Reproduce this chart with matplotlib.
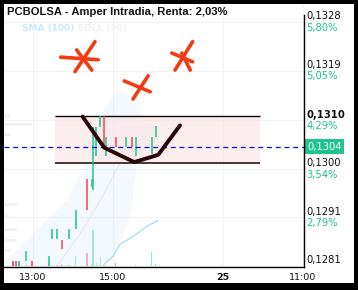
import matplotlib
matplotlib.use('Agg')
import matplotlib.pyplot as plt
from matplotlib.patches import Rectangle
import numpy as np

# candles (time of day 24, open, close)
times = ['12:30', '12:35', '12:39', '12:50', '12:58', '13:24', '13:28', '13:36',
         '13:43', '13:54', '14:04', '14:21', '14:28', '14:30', '14:35', '14:41',
         '14:46', '14:49', '15:04', '15:20', '15:29', '15:34', '15:58', '16:04']
opens = [0.12818, 0.12818, 0.12808, 0.12817, 0.12817, 0.12808, 0.12860, 0.12860,
         0.12858, 0.12860, 0.12879, 0.12977, 0.12960, 0.12956, 0.13020, 0.13077,
         0.13099, 0.13020, 0.13058, 0.13039, 0.13058, 0.13020, 0.13024, 0.13058]
closes = [0.12808, 0.12808, 0.12818, 0.12837, 0.12808, 0.12827, 0.12879, 0.12879,
          0.12840, 0.12879, 0.12917, 0.12917, 0.12977, 0.13077, 0.13077, 0.13099,
          0.13039, 0.13058, 0.13039, 0.13058, 0.13039, 0.13058, 0.13058, 0.13078]
volumes = [5, 5, 5, 3, 3, 4, 2, 2, 3, 2, 10, 14, 3, 37, 4, 10, 2, 2, 4, 1, 1, 2, 15, 3]

# bollinger band (hours, upper, lower) and SMA(100)
band_x = [12.3, 13.0, 13.85, 14.25, 14.6, 14.75, 15.0, 15.1, 15.25, 15.45, 15.5, 15.6, 15.8, 16.075]
band_up = [0.12817, 0.12873, 0.12937, 0.13000, 0.13066, 0.13110, 0.13140, 0.13149, 0.13145,
           0.13135, 0.13128, 0.13110, 0.13087, 0.13079]
band_lo = [0.1279, 0.1279, 0.1279, 0.1279, 0.1279, 0.12808, 0.12827, 0.12845, 0.12873,
           0.12917, 0.12955, 0.13014, 0.13033, 0.13052]
band_mid_x = [13.6, 14.2, 14.7, 15.1, 15.4, 16.075]
band_mid = [0.12808, 0.12873, 0.12937, 0.12997, 0.13030, 0.13044]
sma_x = [14.775, 15.0, 15.175, 15.5, 15.85, 16.125]
sma_y = [0.12811, 0.12827, 0.12850, 0.12865, 0.12885, 0.12896]

# faint volume profile on the left (price, width in hours)
prof_y = [0.13097, 0.13081, 0.13062, 0.12927, 0.12904, 0.12879, 0.12858, 0.12838]
prof_w = [0.18, 0.7, 0.18, 0.33, 0.12, 0.33, 0.33, 0.18]

# axis ticks
tick_levels = [0.13280, 0.13186, 0.13090, 0.12996, 0.12902, 0.12808]
tick_prices = ['0,1328', '0,1319', '0,1310', '0,1300', '0,1291', '0,1281']
tick_pcts = ['5,80%', '5,05%', '4,29%', '3,54%', '2,79%', '2,04%']
xtick_pos = [13, 15, 17.75, 19.75]
xtick_labels = ['13:00', '15:00', '25', '11:00']
last_price = 0.13039

# drawn range box and hand annotations
box_x = [13.54, 18.675]
box_y = [0.13008, 0.13098]
v_x = [14.24, 14.78, 15.53, 16.13, 16.675]
v_y = [0.13097, 0.13037, 0.13009, 0.13023, 0.13080]
star_strokes = [
    [(13.69, 0.13212), (14.63, 0.13207)],
    [(14.55, 0.13242), (14.05, 0.13184)],
    [(14.09, 0.13226), (14.47, 0.13187)],
    [(15.28, 0.13166), (15.93, 0.13145)],
    [(15.88, 0.13176), (15.50, 0.13131)],
    [(16.47, 0.13220), (16.99, 0.13203)],
    [(16.99, 0.13242), (16.55, 0.13187)],
    [(16.72, 0.13220), (16.93, 0.13187)],
]

GREEN = '#1ec48f'
RED = '#f0464e'


def to_h(t):
    hh, mm = t.split(':')
    return int(hh) + int(mm) / 60


x = np.array([to_h(t) for t in times])
o = np.array(opens)
c = np.array(closes)
up = c >= o

fig = plt.figure(figsize=(3.58, 2.90), dpi=100)
fig.patch.set_facecolor('black')
fig.add_artist(Rectangle((4 / 358, 7 / 290), 350 / 358, 279 / 290, transform=fig.transFigure,
                         facecolor='white', edgecolor='none', zorder=-1))

ax = fig.add_axes([4 / 358, 23 / 290, 300 / 358, 263 / 290])
ylo, yhi = 0.128061, 0.133148
ax.set_xlim(12.275, 19.775)
ax.set_ylim(ylo, yhi)

# volume (drawn underneath)
vax = ax.twinx()
vax.set_ylim(0, max(volumes) * 263 / 37)
vax.bar(x, volumes, width=0.035, color=np.where(up, '#86eecb', '#f7a0a7'), lw=0, zorder=1)
vax.set_axis_off()
ax.set_zorder(vax.get_zorder() + 1)
ax.patch.set_visible(False)

for lv in tick_levels:
    ax.axhline(lv, color='#f3f3f3', lw=0.8, zorder=0)
for xp in xtick_pos:
    ax.axvline(xp, color='#f3f3f3', lw=0.8, zorder=0)

ax.barh(prof_y, prof_w, left=12.275, height=0.00006, color='#f2f2f2', zorder=0.5)

# band
ax.fill_between(band_x, band_lo, band_up, color='#d8ebfb', alpha=0.28, lw=0, zorder=1)
ax.plot(band_mid_x, band_mid, color='#e6e4f0', lw=0.8, alpha=0.8, zorder=1.1)
ax.plot(sma_x, sma_y, color='#a6dcf7', lw=0.9, zorder=1.2)

# range box
ax.add_patch(Rectangle((box_x[0], box_y[0]), box_x[1] - box_x[0], box_y[1] - box_y[0],
                       facecolor='#fbe3e3', alpha=0.6, edgecolor='none', zorder=1.5))
ax.hlines(box_y[1], box_x[0], box_x[1], color='black', lw=1.0, zorder=3)
ax.hlines(box_y[0], box_x[0], box_x[1], color='#3a2525', lw=1.3, zorder=3)

# candles
ax.vlines(x, np.minimum(o, c), np.maximum(o, c), colors=np.where(up, GREEN, RED), lw=1.1, zorder=4)

ax.axhline(last_price, color='#1010c8', lw=0.9, dashes=(4, 3), zorder=5)

# hand drawn marks
ax.plot(v_x, v_y, color='#2a0808', lw=2.8, solid_capstyle='round', solid_joinstyle='round', zorder=6)
for s in star_strokes:
    ax.plot([s[0][0], s[1][0]], [s[0][1], s[1][1]], color='#f43a14', lw=2.6,
            solid_capstyle='round', zorder=6)

for sp in ['top', 'left']:
    ax.spines[sp].set_visible(False)
ax.spines['right'].set_bounds(ylo, 0.13294)
ax.spines['right'].set_linewidth(1.0)
ax.spines['bottom'].set_linewidth(1.0)
ax.set_yticks([])
ax.set_xticks(xtick_pos)
ax.set_xticklabels(xtick_labels)
ax.tick_params(axis='x', length=0, pad=4, labelsize=6.8, colors='#111111')
ax.get_xticklabels()[2].set_fontweight('bold')

# right side labels
lax = fig.add_axes([304 / 358, 23 / 290, 50 / 358, 263 / 290])
lax.set_xlim(0, 1)
lax.set_ylim(ylo, yhi)
lax.set_axis_off()
for lv, ps, pc in zip(tick_levels, tick_prices, tick_pcts):
    lax.annotate(ps, (0.05, lv), xytext=(0, 0.5), textcoords='offset points', fontsize=7.2,
                 color='#111111', va='bottom', ha='left', annotation_clip=False, clip_on=True,
                 fontweight='bold' if ps == '0,1310' else 'normal')
    lax.annotate(pc, (0.05, lv), xytext=(0, -0.5), textcoords='offset points', fontsize=7.2,
                 color=GREEN, va='top', ha='left', annotation_clip=False, clip_on=True)
lax.text(0.06, last_price, '0,1304', fontsize=7.2, color='white', va='center', ha='left',
         bbox=dict(boxstyle='square,pad=0.25', facecolor=GREEN, edgecolor='none'), zorder=5)

fig.text(7 / 358, 1 - 12 / 290, 'PCBOLSA - Amper Intradia, Renta: 2,03%', fontsize=8.1,
         family='Liberation Sans', fontweight='bold', color='#111111', va='center', ha='left')
fig.text(22 / 358, 1 - 28 / 290, 'SMA (100)', fontsize=6.5, fontweight='bold',
         color='#c8ebfb', va='center', ha='left')
fig.text(77 / 358, 1 - 28 / 290, 'BOLL (20)', fontsize=6.5, fontweight='bold',
         color='#f0f0f0', va='center', ha='left')

fig.savefig('out.png', dpi=100, facecolor=fig.get_facecolor())
